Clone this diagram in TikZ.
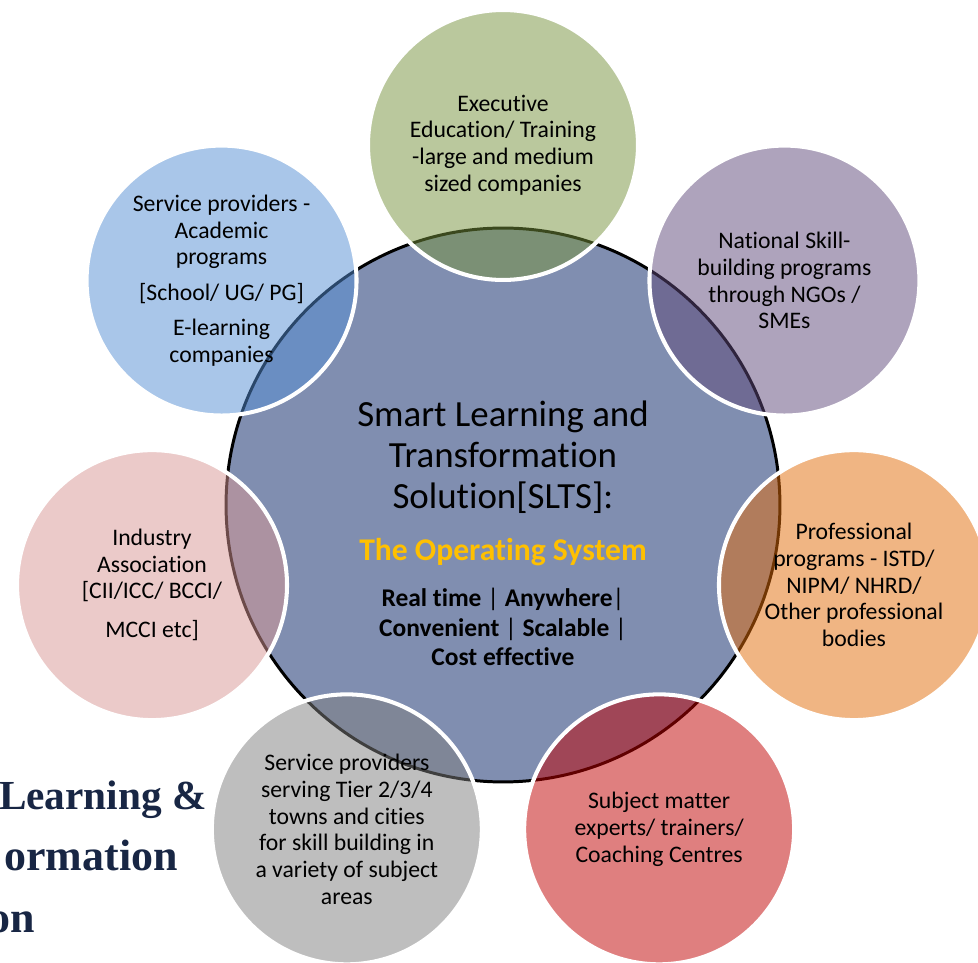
\documentclass[tikz,border=0pt]{standalone}
\usepackage{fontspec}
\setmainfont{Carlito}[Ligatures=NoCommon]
\newfontfamily\slabfont{Liberation Serif}
\usetikzlibrary{positioning}

\definecolor{hubblue}{RGB}{128,142,176}
\definecolor{execgreen}{RGB}{119,147,60}
\definecolor{skillpurple}{RGB}{95,73,122}
\definecolor{proforange}{RGB}{227,108,9}
\definecolor{expertred}{RGB}{192,0,0}
\definecolor{tiergray}{RGB}{127,127,127}
\definecolor{industrypink}{RGB}{217,150,148}
\definecolor{academicblue}{RGB}{85,142,213}
\definecolor{opyellow}{RGB}{255,192,0}
\definecolor{bannernavy}{RGB}{24,38,68}

\begin{document}
\begin{tikzpicture}[x=0.02cm, y=0.02cm, align=center,
    hub/.style={circle, draw=black, line width=1.7pt, fill=hubblue, minimum size=11.08cm},
    sat/.style={circle, draw=white, line width=2.3pt, fill opacity=0.5, draw opacity=1,
        text opacity=1, minimum size=5.4cm, inner sep=0pt,
        font=\fontsize{13.5}{15.2}\selectfont},
    banner/.style={anchor=base east, inner sep=0pt, text=bannernavy,
        font=\slabfont\bfseries\fontsize{25}{28}\selectfont}]
    \useasboundingbox (-503,-458) rectangle (475,505);
    \fill[white] (-503,-458) rectangle (475,505);

    % cut-off title in the background
    \node[banner, font=\slabfont\bfseries\fontsize{23.5}{28}\selectfont] (bannerone) at (-296,-305) {Learning \&};
    \node[banner] (bannertwo) at (-325,-366) {ormation};
    \node[banner] (bannerthree) at (-468,-428) {on};

    \node[hub] (slts) at (0,0) {};

    \node[sat, fill=execgreen] (exec) at (90:360)
        {Executive\\Education/ Training\\-large and medium\\sized companies};
    \node[sat, fill=skillpurple] (skill) at (38.57:360)
        {National Skill-\\building programs\\through NGOs /\\SMEs};
    \node[sat, fill=proforange] (prof) at (-12.86:360)
        {Professional\\programs - ISTD/\\NIPM/ NHRD/\\Other professional\\bodies};
    \node[sat, fill=expertred] (expert) at (-64.29:360)
        {Subject matter\\experts/ trainers/\\Coaching Centres};
    \node[sat, fill=tiergray] (tier) at (-115.71:360)
        {Service providers\\serving Tier 2/3/4\\towns and cities\\for skill building in\\a variety of subject\\areas};
    \node[sat, fill=industrypink] (industry) at (-167.14:360)
        {Industry\\Association\\{[}CII/ICC/ BCCI/\\[7pt]MCCI etc]};
    \node[sat, fill=academicblue] (academic) at (141.43:360)
        {Service providers -\\Academic\\programs\\[5pt]{[}School/ UG/ PG]\\[5pt]E-learning\\companies};

    % text of the hub
    \node[font=\fontsize{21}{23.5}\selectfont] (title) at (0,48)
        {Smart Learning and\\Transformation\\Solution[SLTS]:};
    \node[font=\bfseries\fontsize{18}{21}\selectfont, text=opyellow] (opsys) at (0,-47)
        {The Operating System};
    \node[font=\bfseries\fontsize{14.5}{17}\selectfont] (traits) at (0,-122)
        {Real time {\mdseries|} Anywhere{\mdseries|}\\Convenient {\mdseries|} Scalable {\mdseries|}\\Cost effective};
\end{tikzpicture}
\end{document}
